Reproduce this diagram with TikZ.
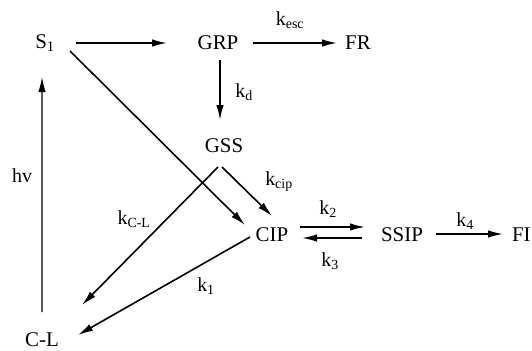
\documentclass[tikz,border=0pt]{standalone}
\usepackage{fontspec}
\setmainfont{Liberation Serif}
\usetikzlibrary{arrows.meta}
\tikzset{
  species/.style={inner sep=0pt, outer sep=0pt, font=\fontsize{21}{24}\selectfont},
  rate/.style={inner sep=0pt, outer sep=0pt, font=\fontsize{20}{22}\selectfont},
  react/.style={line width=1.6bp, -{Latex[length=15bp, width=7.5bp]}}
}

\begin{document}
\begin{tikzpicture}[x=1bp, y=-1bp]
  \useasboundingbox (0,0) rectangle (532,350);
  % species
  \node[species] (s1) at (45,43) {S\textsubscript{1}};
  \node[species] (grp) at (218,43) {GRP};
  \node[species] (fr) at (358,43) {FR};
  \node[species] (gss) at (224,146) {GSS};
  \node[species] (cip) at (272,235) {CIP};
  \node[species] (ssip) at (402,235) {SSIP};
  \node[species, anchor=west] (fi) at (512,235) {FI};
  \node[species] (cl) at (42,340) {C-L};
  % arrows
  \draw[react, shorten <=31bp, shorten >=51bp] (s1.center) -- (grp.center);
  \draw[react, shorten <=35bp, shorten >=21bp] (grp.center) -- (fr.center);
  \draw[react] ([xshift=2bp, yshift=-17bp]grp.center) -- ([xshift=-4bp, yshift=26bp]gss.center);
  \draw[react] ([xshift=25bp, yshift=-8bp]s1.center) -- ([xshift=-27bp, yshift=10bp]cip.center);
  \draw[react] ([xshift=-2bp, yshift=-21bp]gss.center) -- ([yshift=19bp]cip.center);
  \draw[react] ([xshift=-6bp, yshift=-21bp]gss.center) -- ([xshift=40bp, yshift=35bp]cl.center);
  \draw[react] ([xshift=-22bp, yshift=-2bp]cip.center) -- ([xshift=36bp, yshift=5bp]cl.center);
  \draw[react] ([xshift=28bp, yshift=8bp]cip.center) -- ([xshift=-37bp, yshift=8bp]ssip.center);
  \draw[react] ([xshift=-40bp, yshift=-3bp]ssip.center) -- ([xshift=30bp, yshift=-3bp]cip.center);
  \draw[react] ([xshift=34bp, yshift=1bp]ssip.center) -- ([xshift=-9bp, yshift=1bp]fi.west);
  \draw[react, line width=1.2bp] ([yshift=28bp]cl.center) -- ([xshift=-3bp, yshift=-34bp]s1.center);
  % rate constants
  \node[rate] (kesc) at (290,20) {k\textsubscript{esc}};
  \node[rate] (kd) at (244,92) {k\textsubscript{d}};
  \node[rate] (kcip) at (279,182) {k\textsubscript{cip}};
  \node[rate] (kcl) at (134,219) {k\textsubscript{C-L}};
  \node[rate] (kone) at (206,286) {k\textsubscript{1}};
  \node[rate] (ktwo) at (328,209) {k\textsubscript{2}};
  \node[rate] (kthree) at (330,261) {k\textsubscript{3}};
  \node[rate] (kfour) at (465,221) {k\textsubscript{4}};
  \node[rate] (hv) at (22,176) {hv};
\end{tikzpicture}
\end{document}
